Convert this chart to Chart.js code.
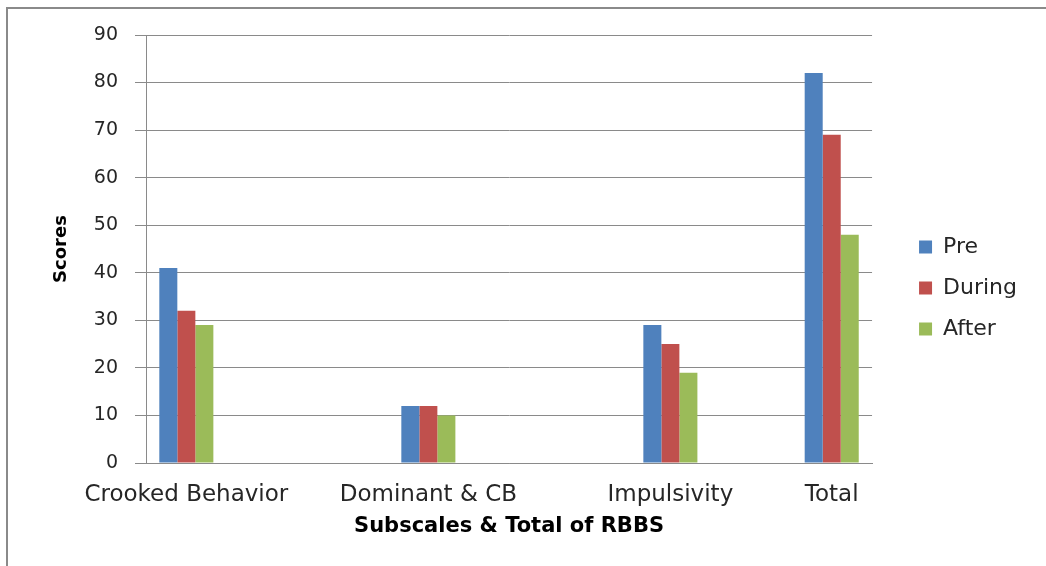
<!DOCTYPE html>
<html>
<head>
<meta charset="utf-8">
<title>Subscales & Total of RBBS</title>
<script src="https://cdn.jsdelivr.net/npm/chart.js@4.4.1/dist/chart.umd.min.js"></script>
<style>
    html, body { margin: 0; padding: 0; background: #fff; overflow: hidden; }
    .frame { position: relative; width: 1046px; height: 566px; }
    /* only the top and left edge of the chart border are in the picture */
    .frame::before {
        content: "";
        position: absolute;
        left: 6px; top: 7px; right: -20px; bottom: -20px;
        border-left: 2px solid #8a8a8a;
        border-top: 2px solid #8a8a8a;
    }
    canvas { position: absolute; left: 0; top: 0; }
</style>
</head>
<body>
<div class="frame"><canvas id="rbbsChart" width="1046" height="566"></canvas></div>
<script>
// the sheet had blank rows between the subscales, so keep them as empty categories
const categories = ["Crooked Behavior", "", "", "Dominant & CB", "", "", "Impulsivity", "", "Total"];
const preScores    = [41, null, null, 12, null, null, 29, null, 82];
const duringScores = [32, null, null, 12, null, null, 25, null, 69];
const afterScores  = [29, null, null, 10, null, null, 19, null, 48];
const seriesNames  = ["Pre", "During", "After"];
const yTicks = [0, 10, 20, 30, 40, 50, 60, 70, 80, 90];

document.addEventListener("DOMContentLoaded", () => {
    const ctx = document.getElementById("rbbsChart").getContext("2d");
    const colors = ["#4F81BD", "#C0504D", "#9BBB59"];
    const gridColor = "#8a8a8a";
    const font = "'DejaVu Sans', 'Open Sans', sans-serif";

    const datasets = [preScores, duringScores, afterScores].map((values, i) => ({
        label: seriesNames[i],
        data: values,
        backgroundColor: colors[i],
        borderWidth: 0,
        categoryPercentage: 0.67,
        barPercentage: 1,
    }));

    new Chart(ctx, {
        type: "bar",
        data: { labels: categories, datasets },
        options: {
            responsive: false,
            animation: false,
            layout: { padding: { left: 47, top: 35, right: 19, bottom: 25 } },
            plugins: {
                tooltip: { enabled: false },
                legend: {
                    position: "right",
                    align: "center",
                    labels: {
                        boxWidth: 13,
                        boxHeight: 13,
                        padding: 19,
                        color: "#262626",
                        font: { family: font, size: 22 },
                    },
                },
            },
            scales: {
                x: {
                    grid: { display: false, drawTicks: false },
                    border: { display: true, color: gridColor, width: 1 },
                    ticks: {
                        autoSkip: false,
                        maxRotation: 0,
                        padding: 18,
                        color: "#262626",
                        font: { family: font, size: 23 },
                    },
                    title: {
                        display: true,
                        text: "Subscales & Total of RBBS",
                        color: "#000",
                        padding: { top: 0, bottom: 2 },
                        font: { family: font, size: 21, weight: "bold" },
                    },
                    afterFit: (scale) => { scale.height = 78; },
                },
                y: {
                    min: yTicks[0],
                    max: yTicks[yTicks.length - 1],
                    afterBuildTicks: (scale) => { scale.ticks = yTicks.map((v) => ({ value: v })); },
                    grid: { color: gridColor, lineWidth: 1, tickLength: 11, tickColor: gridColor },
                    border: { display: true, color: gridColor, width: 1 },
                    ticks: {
                        padding: 17,
                        color: "#262626",
                        font: { family: font, size: 19 },
                    },
                    title: {
                        display: true,
                        text: "Scores",
                        color: "#000",
                        padding: { top: 4, bottom: 0 },
                        font: { family: font, size: 18, weight: "bold" },
                    },
                    afterFit: (scale) => { scale.width = 99; },
                },
                /* empty strip between plot and legend */
                gap: {
                    axis: "y",
                    type: "linear",
                    position: "right",
                    grid: { display: false, drawTicks: false },
                    border: { display: false },
                    ticks: { display: false },
                    afterFit: (scale) => { scale.width = 28; },
                },
            },
        },
    });
});
</script>
</body>
</html>
